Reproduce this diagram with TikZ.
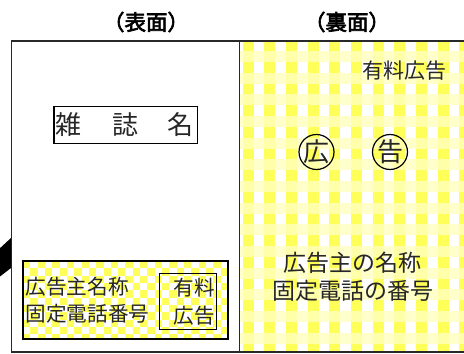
\documentclass[tikz,border=0pt]{standalone}
\usepackage{fontspec}
\newfontfamily\jp{Noto Sans CJK JP}
\newfontfamily\jpb{Noto Sans CJK JP}[FakeBold=3]
\definecolor{ylw}{RGB}{255,255,90}
\definecolor{ylwlt}{RGB}{255,255,190}
\definecolor{frm}{RGB}{40,40,40}
\tikzset{
  frameline/.style={draw=frm, line width=1.2pt},
  boxline/.style={draw=black, line width=1.3pt},
  title/.style={font=\jpb\fontsize{21.5}{21.5}\selectfont, inner sep=0pt},
  jtxt/.style={inner sep=0pt, text=black!85},
}
\begin{document}
\begin{tikzpicture}[x=1pt,y=-1pt]
\useasboundingbox (0,0) rectangle (464,354);
\fill[white] (0,0) rectangle (464,354);
% right panel gingham
\begin{scope}
\clip (240,42) rectangle (464,352);
\foreach \i in {0,...,10} \fill[ylw] ({242.7+21.67*\i},42) rectangle +(10.83,310);
\foreach \j in {-1,...,14} \fill[ylwlt, opacity=0.8] (240,{51+21.67*\j}) rectangle +(224,10.83);
\end{scope}
% left bottom checker box
\begin{scope}
\clip (23,261) rectangle (228,339);
\foreach \i in {0,...,28} {
  \foreach \j in {0,...,11} {
    \pgfmathtruncatemacro\ckp{mod(\i+\j,2)}
    \ifnum\ckp=0 \fill[ylw] ({23+7.32*\i},{261+7.32*\j}) rectangle +(7.32,7.32); \fi
  }
}
\end{scope}
% frame
\draw[frameline] (465,41) -- (11.5,41) -- (11.5,352) -- (465,352);
\draw[frameline] (239.5,41) -- (239.5,352);
% black wedge
\fill[black] (-2,250) -- (11,238) -- (11,268) -- (-2,278) -- cycle;
% titles
\node[title] (t1) at (146,22) {（表面）};
\node[title] (t2) at (347,22) {（裏面）};
% magazine name box
\node[boxline, minimum width=143.5pt, minimum height=37pt, inner sep=0pt] (mag) at (125.75,125) {};
\node[jtxt, font=\jp\fontsize{26}{26}\selectfont] (m1) at (68,125) {雑};
\node[jtxt, font=\jp\fontsize{26}{26}\selectfont] (m2) at (125.5,125) {誌};
\node[jtxt, font=\jp\fontsize{26}{26}\selectfont] (m3) at (180.5,125) {名};
% left ad box
\node[boxline, minimum width=205pt, minimum height=78pt, inner sep=0pt] (adbox) at (125.5,300) {};
\node[boxline, minimum width=57.5pt, minimum height=56pt, inner sep=0pt] (paid) at (188,301.3) {};
\node[jtxt, anchor=west, font=\jp\fontsize{20.6}{20.6}\selectfont] (a1) at (25.5,287) {広告主名称};
\node[jtxt, anchor=west, font=\jp\fontsize{20.6}{20.6}\selectfont] (a2) at (25.5,313.5) {固定電話番号};
\node[jtxt, font=\jp\fontsize{20.6}{20.6}\selectfont] (p1) at (194,288) {有料};
\node[jtxt, font=\jp\fontsize{20.6}{20.6}\selectfont] (p2) at (194,316) {広告};
% right panel texts
\node[jtxt, anchor=east, font=\jp\fontsize{21}{21}\selectfont] (r0) at (447,71) {有料広告};
\node[draw=black, line width=1.2pt, circle, minimum size=35pt, inner sep=0pt] (c1) at (316.5,152) {};
\node[draw=black, line width=1.2pt, circle, minimum size=35pt, inner sep=0pt] (c2) at (390,152) {};
\node[jtxt, font=\jp\fontsize{26}{26}\selectfont] (c1t) at (c1) {広};
\node[jtxt, font=\jp\fontsize{26}{26}\selectfont] (c2t) at (c2) {告};
\node[jtxt, font=\jp\fontsize{23}{23}\selectfont] (r1) at (352.5,263) {広告主の名称};
\node[jtxt, font=\jp\fontsize{23}{23}\selectfont] (r2) at (352.5,291) {固定電話の番号};
\end{tikzpicture}
\end{document}
